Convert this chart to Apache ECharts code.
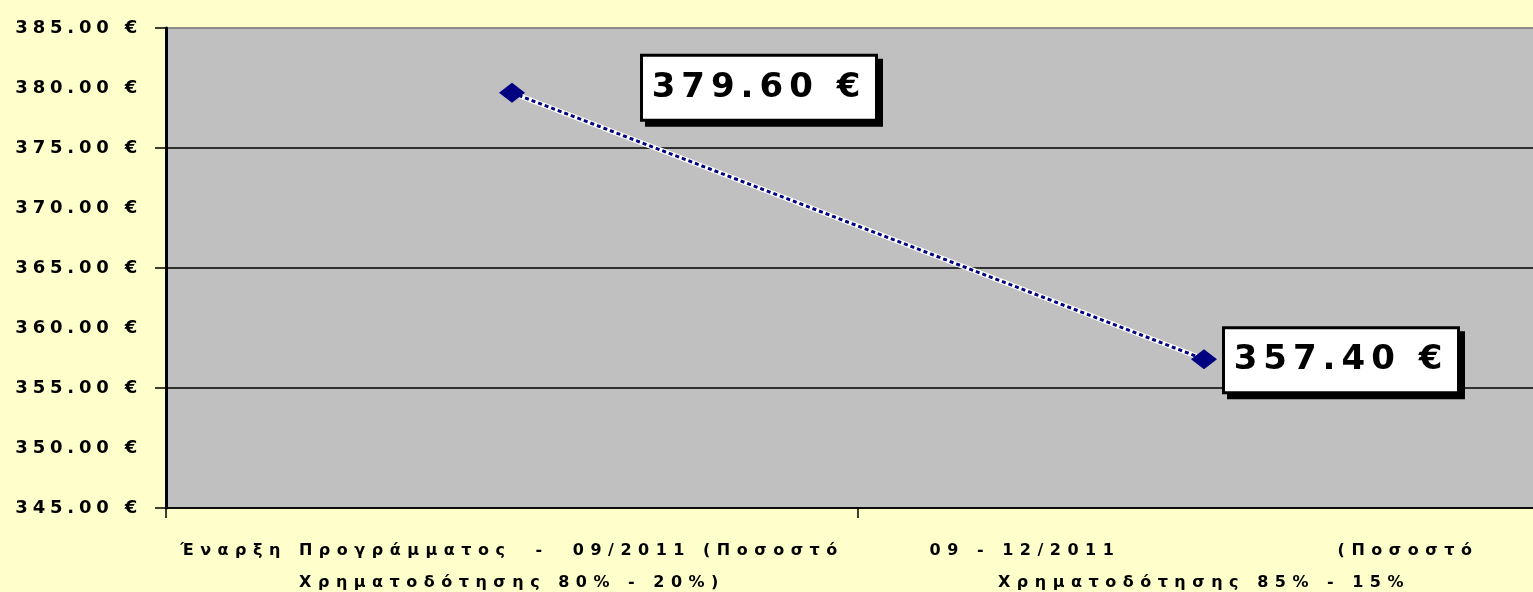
<!DOCTYPE html>
<html><head><meta charset="utf-8">
<script src="https://cdn.jsdelivr.net/npm/echarts@6/dist/echarts.min.js"></script>
<style>html,body{margin:0;padding:0;overflow:hidden;background:#FFFFCC}#c{width:1550px;height:592px}</style>
</head><body><div id="c"></div>
<script>
const categories = [
  "Έναρξη Προγράμματος  -  09/2011 (Ποσοστό\nΧρηματοδότησης 80% - 20%)",
  "09 - 12/2011                  (Ποσοστό\nΧρηματοδότησης 85% - 15%"
];
const values = [379.60, 357.40];
const yMin = 345, yMax = 385, yLabelStep = 5, yGridStep = 10;

// widen glyph spacing (the reference text is horizontally stretched)
const LS = {16: 6.5, 18: 4.8, 34: 6};
(function () {
  const P = CanvasRenderingContext2D.prototype;
  function ls(ctx) {
    const m = /(\d+(?:\.\d+)?)px/.exec(ctx.font);
    const v = m ? (LS[Math.round(parseFloat(m[1]))] || 0) : 0;
    try { ctx.letterSpacing = v + 'px'; } catch (e) {}
  }
  ['fillText', 'strokeText', 'measureText'].forEach(function (k) {
    const o = P[k];
    P[k] = function () { ls(this); return o.apply(this, arguments); };
  });
})();

const chart = echarts.init(document.getElementById('c'), null, {renderer: 'canvas'});
const FONT = 'DejaVu Sans';
const labelOffsets = [[247, -5], [137, 1]];
const option = {
  backgroundColor: '#FFFFCC',
  animation: false,
  grid: {left: 166, right: 0, top: 28, bottom: 84, outerBoundsMode: 'none', containLabel: false,
    show: true, backgroundColor: '#C0C0C0', borderColor: '#808080', borderWidth: 1},
  xAxis: {
    type: 'category', data: categories, boundaryGap: true,
    axisLine: {lineStyle: {color: '#000', width: 1.5}},
    axisTick: {show: true, length: 10, lineStyle: {color: '#000', width: 1.5}},
    axisLabel: {color: '#000', fontFamily: FONT, fontWeight: 'bold', fontSize: 16, lineHeight: 32, margin: 27, interval: 0},
    splitLine: {show: false}
  },
  yAxis: [{
    type: 'value', min: yMin, max: yMax, interval: yLabelStep, position: 'left',
    axisLine: {show: true, lineStyle: {color: '#000', width: 3}},
    axisTick: {show: false},
    splitLine: {show: false},
    axisLabel: {color: '#000', fontFamily: FONT, fontWeight: 'bold', fontSize: 18, margin: 24,
      formatter: v => v.toFixed(2) + ' €'}
  }, {
    type: 'value', min: yMin, max: yMax, interval: yGridStep, position: 'left',
    axisLine: {show: false},
    axisTick: {show: true, inside: false, length: 11, lineStyle: {color: '#000', width: 1.5}},
    axisLabel: {show: false},
    splitLine: {show: true, lineStyle: {color: ['#000', '#000', '#000', '#000', '#808080'], width: 1.5}}
  }],
  series: [{
    type: 'line', data: values, yAxisIndex: 0, silent: true, symbol: 'none', z: 2,
    lineStyle: {color: '#ffffff', width: 5}
  }, {
    type: 'line', yAxisIndex: 0, z: 3,
    data: values.map((v, i) => ({value: v, label: {offset: labelOffsets[i]}})),
    symbol: 'diamond', symbolSize: [26, 20],
    itemStyle: {color: '#000080'},
    lineStyle: {color: '#000080', width: 3, type: [4, 3]},
    label: {
      show: true, position: 'inside', formatter: p => p.value.toFixed(2) + ' €',
      fontFamily: FONT, fontWeight: 'bold', fontSize: 34, color: '#000',
      backgroundColor: '#fff', borderColor: '#000', borderWidth: 3,
      width: 232, height: 62, align: 'center', verticalAlign: 'middle',
      shadowColor: '#000', shadowOffsetX: 5, shadowOffsetY: 5, shadowBlur: 0
    }
  }]
};
chart.setOption(option);
</script></body></html>
